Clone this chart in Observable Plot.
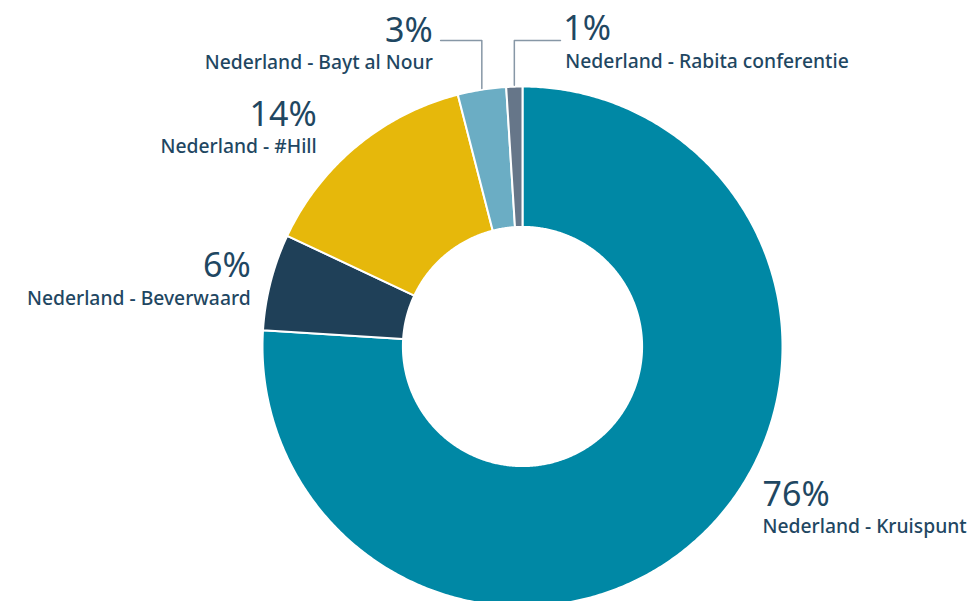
<!DOCTYPE html>
<html><head><meta charset="utf-8">
<script src="https://cdn.jsdelivr.net/npm/d3@7"></script>
<script src="https://cdn.jsdelivr.net/npm/@observablehq/plot@0.6"></script>
<style>body{margin:0;background:#fff;overflow:hidden}</style>
</head><body><div id="chart"></div>
<script>
// ---- data ----
const names = ["Nederland - Kruispunt", "Nederland - Beverwaard", "Nederland - #Hill", "Nederland - Bayt al Nour", "Nederland - Rabita conferentie"];
const values = [76, 6, 14, 3, 1];
const pctLabels = ["76%", "6%", "14%", "3%", "1%"];
const colors = ["#0088a5", "#1f4058", "#e6b80b", "#6badc4", "#667689"];

// ---- label layout (pixel offsets from slice mid-point on the outer edge) ----
const labelAnchor = ["start", "end", "end", "end", "start"];
const pctOffset = [[62, -30], [-20, -5], [-40, -20], [-49, -48], [49, -47]];
const nameOffset = [[62, -3], [-20, 23], [-40, 7], [-49, -21], [51, -19]];
const leaderElbowY = [null, null, null, 1.177, 1.177];
const leaderEndX = [null, null, null, -0.315, 0.146];

const innerR = 0.46;
const textColor = "#1f4762";
const font = "'Noto Sans', sans-serif";

const total = d3.sum(values);
let cum = 0;
const slices = values.map((v, i) => {
  const a0 = cum / total * 2 * Math.PI;
  cum += v;
  const a1 = cum / total * 2 * Math.PI;
  return {i, a0, a1, mid: (a0 + a1) / 2};
});

function arcPoints(s) {
  const pts = [];
  const n = Math.max(2, Math.ceil((s.a1 - s.a0) / (Math.PI / 360)));
  for (let k = 0; k <= n; k++) {
    const a = s.a0 + (s.a1 - s.a0) * k / n;
    pts.push({x: Math.sin(a), y: Math.cos(a)});
  }
  for (let k = n; k >= 0; k--) {
    const a = s.a0 + (s.a1 - s.a0) * k / n;
    pts.push({x: innerR * Math.sin(a), y: innerR * Math.cos(a)});
  }
  pts.push(pts[0]);
  return pts;
}

const marks = [];
slices.forEach(s => {
  marks.push(Plot.line(arcPoints(s), {x: "x", y: "y", fill: colors[s.i], stroke: "white", strokeWidth: 2, strokeLinejoin: "round", curve: "linear"}));
});

// leader lines
slices.forEach(s => {
  if (leaderElbowY[s.i] == null) return;
  const mx = Math.sin(s.mid), my = Math.cos(s.mid);
  const pts = [{x: mx, y: my + 0.005}, {x: mx, y: leaderElbowY[s.i]}, {x: leaderEndX[s.i], y: leaderElbowY[s.i]}];
  marks.push(Plot.line(pts, {x: "x", y: "y", stroke: "#8797a6", strokeWidth: 1.5, curve: "linear"}));
});

// labels
slices.forEach(s => {
  const d = [{x: Math.sin(s.mid), y: Math.cos(s.mid), pct: pctLabels[s.i], name: names[s.i]}];
  marks.push(Plot.text(d, {x: "x", y: "y", text: "pct", textAnchor: labelAnchor[s.i], lineAnchor: "bottom",
    dx: pctOffset[s.i][0], dy: pctOffset[s.i][1], fontSize: 34, fontWeight: 400, fill: textColor, fontFamily: font}));
  marks.push(Plot.text(d, {x: "x", y: "y", text: "name", textAnchor: labelAnchor[s.i], lineAnchor: "bottom",
    dx: nameOffset[s.i][0], dy: nameOffset[s.i][1], fontSize: 19.3, fontWeight: 500, fill: textColor, fontFamily: font}));
});

const chart = Plot.plot({
  width: 973,
  height: 601,
  x: {domain: [-1, 1], range: [262, 782], axis: null},
  y: {domain: [-1, 1], range: [606, 86], axis: null},
  style: {background: "white", fontFamily: font},
  marks
});
document.getElementById("chart").append(chart);
</script>
</body></html>
